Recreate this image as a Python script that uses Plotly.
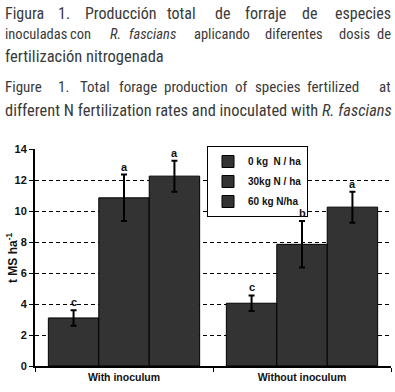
import plotly.graph_objects as go

# ---------------- data ----------------
categories = ["With inoculum", "Without inoculum"]
series_names = ["0 kg  N / ha", "30kg N / ha", "60 kg N/ha"]
values_0kg = [3.1, 4.05]
values_30kg = [10.85, 7.85]
values_60kg = [12.25, 10.25]
err_0kg = [0.5, 0.5]
err_30kg = [1.5, 1.5]
err_60kg = [1.0, 1.0]
letters_0kg = ["c", "c"]
letters_30kg = ["a", "b"]
letters_60kg = ["a", "a"]
y_tick_values = [0, 2, 4, 6, 8, 10, 12, 14]

series_values = [values_0kg, values_30kg, values_60kg]
series_errors = [err_0kg, err_30kg, err_60kg]
series_letters = [letters_0kg, letters_30kg, letters_60kg]

# ---------------- layout geometry ----------------
W, H = 395, 392
M_L, M_R, M_T, M_B = 35, 4, 149, 26
PW = W - M_L - M_R
PH = H - M_T - M_B
BARGAP = 0.15


def px_x(px):
    return (px - M_L) / PW


def px_y(py):
    return (H - M_B - py) / PH


fig = go.Figure()
for name, vals, errs in zip(series_names, series_values, series_errors):
    fig.add_trace(go.Bar(
        x=categories, y=vals, name=name, legendgroup=name,
        marker=dict(color="#333333", line=dict(color="black", width=1)),
        error_y=dict(type="data", array=errs, color="black", thickness=2, width=3),
    ))

annotations = []
# significance letters
n = len(series_names)
bw = (1 - BARGAP) / n
for k, (vals, errs, lets) in enumerate(zip(series_values, series_errors, series_letters)):
    for i, (v, e, t) in enumerate(zip(vals, errs, lets)):
        annotations.append(dict(
            x=i + (k - (n - 1) / 2) * bw, y=v + e, xref="x", yref="y",
            text="<b>%s</b>" % t, showarrow=False, yanchor="bottom", xanchor="center", yshift=0,
            font=dict(family="Liberation Sans, Arial, sans-serif", size=11, color="#111111"),
        ))

# y axis title
annotations.append(dict(
    x=px_x(12), y=px_y(258), xref="paper", yref="paper", textangle=-90,
    xanchor="center", yanchor="middle",
    text="<b>t MS ha<sup>-1</sup></b>", showarrow=False,
    font=dict(family="Liberation Sans, Arial, sans-serif", size=12, color="#111111"),
))

# caption text (justified lines are set word by word)
CAP_FAMILY = "Roboto Condensed, DejaVu Sans Condensed, sans-serif"
CAP_COLOR = "#3a3a3a"
caption_lines = [
    (13, 16, [("Figura", 3), ("1.", 56), ("Producción", 83), ("total", 165), ("de", 213),
              ("forraje", 243), ("de", 300), ("especies", None)]),
    (34.5, 14.5, [("inoculadas", 3), ("con", 68), ("<i>R.</i>", 108), ("<i>fascians</i>", 127),
                  ("aplicando", 192), ("diferentes", 263), ("dosis", 337), ("de", None)]),
    (56, 16.5, [("fertilización nitrogenada", 3)]),
    (87, 15, [("Figure", 3), ("1.", 56), ("Total", 78), ("forage", 117), ("production", 162),
              ("of", 233), ("species", 253), ("fertilized", 305), ("at", None)]),
    (110, 16.4, [("different N fertilization rates and inoculated with <i>R. fascians</i>", 3)]),
]
for ypix, fsize, words in caption_lines:
    font = dict(family=CAP_FAMILY, size=fsize, color=CAP_COLOR)
    for text, xpix in words:
        if xpix is None:
            annotations.append(dict(x=px_x(393), y=px_y(ypix), xref="paper", yref="paper",
                                    xanchor="right", yanchor="middle", text=text,
                                    showarrow=False, font=font))
        else:
            annotations.append(dict(x=px_x(xpix), y=px_y(ypix), xref="paper", yref="paper",
                                    xanchor="left", yanchor="middle", text=text,
                                    showarrow=False, font=font))

fig.update_layout(
    width=W, height=H,
    margin=dict(l=M_L, r=M_R, t=M_T, b=M_B, pad=0, autoexpand=False),
    paper_bgcolor="white", plot_bgcolor="white",
    barmode="group", bargap=BARGAP, bargroupgap=0,
    font=dict(family="Liberation Sans, Arial, sans-serif", color="#111111"),
    showlegend=True,
    legend=dict(
        x=px_x(207), y=px_y(146), xanchor="left", yanchor="top",
        bgcolor="white", bordercolor="black", borderwidth=1,
        font=dict(size=10, family="Liberation Sans, Arial, sans-serif", color="#111111", weight="bold"),
        itemwidth=30, traceorder="grouped", tracegroupgap=1,
    ),
    annotations=annotations,
)
fig.update_xaxes(
    type="category", tickson="boundaries", ticks="outside", ticklen=4, tickwidth=1,
    tickcolor="black", showline=True, linecolor="black", linewidth=2, automargin=False,
    showgrid=False, tickfont=dict(size=10.5, weight="bold"),
)
fig.update_yaxes(
    range=[0, 14], tickvals=y_tick_values, ticks="outside", ticklen=4, tickwidth=1,
    tickcolor="black", showline=True, linecolor="black", linewidth=2, automargin=False,
    showgrid=True, gridcolor="black", gridwidth=1, griddash="4px,3px",
    zeroline=False, tickfont=dict(size=11, weight="bold"),
)

fig.write_html("out.html", config={"displayModeBar": False},
               post_script="document.body.style.margin='0';")
